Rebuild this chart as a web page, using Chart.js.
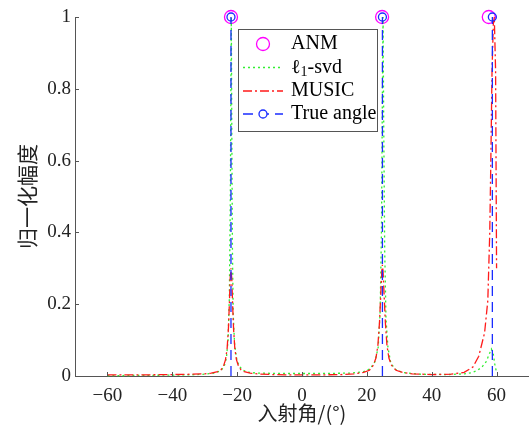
<!DOCTYPE html>
<html>
<head>
<meta charset="utf-8">
<script src="https://cdn.jsdelivr.net/npm/chart.js@4.4.1/dist/chart.umd.min.js"></script>
<style>
  html, body { margin: 0; padding: 0; background: #fff; }
  #wrap { width: 529px; height: 425px; }
</style>
</head>
<body>
<div id="wrap"><canvas id="c" width="529" height="425"></canvas></div>
<script>
// Spatial spectra of the three estimators, normalised to 1.
const xTicks = [-60, -40, -20, 0, 20, 40, 60];
const yTicks = [0, 0.2, 0.4, 0.6, 0.8, 1];

// ANM: recovered directions
const anmAngles = [-21.9, 24.7, 57.6];
const anmValues = [1, 1, 1];

// True source directions
const trueAngles = [-21.9, 24.8, 58.7];

// l1-SVD spectrum
const l1Angles = [-60, -45, -35, -30, -27, -25, -24, -23.3, -22.8, -22.4, -22.1, -21.9, -21.8, -21.65, -21.45, -21.2, -20.8, -20.2, -19.5, -18.5, -17, -14, -5, 5, 15, 19, 21, 22.5, 23.5, 24.1, 24.5, 24.8, 25.0, 25.2, 25.5, 25.9, 26.5, 27.3, 28.5, 31, 36, 45, 50, 52.2, 54, 55.5, 56.8, 57.7, 58.4, 59, 59.5, 60];
const l1Values = [0.001, 0.002, 0.003, 0.005, 0.008, 0.015, 0.027, 0.05, 0.1, 0.22, 0.5, 0.85, 1.0, 0.7, 0.35, 0.17, 0.09, 0.05, 0.03, 0.018, 0.011, 0.008, 0.007, 0.007, 0.008, 0.012, 0.02, 0.04, 0.08, 0.18, 0.4, 0.8, 1.0, 0.7, 0.35, 0.16, 0.08, 0.04, 0.02, 0.01, 0.005, 0.004, 0.006, 0.009, 0.015, 0.025, 0.04, 0.06, 0.075, 0.06, 0.03, 0.01];

// MUSIC spectrum
const musicAngles = [-60, -50, -40, -34, -30, -28, -26, -25, -24.2, -23.6, -23.1, -22.7, -22.4, -22.15, -21.9, -21.65, -21.4, -21.1, -20.7, -20.2, -19.6, -18.8, -17.8, -16, -13, -5, 5, 12, 16, 19, 20.8, 22, 22.8, 23.4, 23.9, 24.3, 24.6, 24.8, 25.0, 25.3, 25.7, 26.2, 26.8, 27.6, 29, 31, 34, 40, 46, 50, 52.7, 54.5, 56.3, 57.3, 57.9, 58.2, 58.6, 59.0, 59.3, 59.7, 60];
const musicValues = [0.003, 0.003, 0.004, 0.005, 0.006, 0.008, 0.012, 0.017, 0.028, 0.045, 0.075, 0.13, 0.2, 0.27, 0.30, 0.27, 0.2, 0.13, 0.075, 0.045, 0.028, 0.017, 0.012, 0.008, 0.005, 0.003, 0.003, 0.004, 0.006, 0.01, 0.016, 0.03, 0.05, 0.085, 0.15, 0.23, 0.29, 0.31, 0.29, 0.23, 0.15, 0.085, 0.05, 0.03, 0.016, 0.01, 0.006, 0.004, 0.005, 0.01, 0.025, 0.055, 0.12, 0.21, 0.4, 0.58, 0.85, 0.98, 1.0, 0.85, 0.3];

const pairs = (xs, ys) => xs.map((x, i) => ({ x: x, y: ys[i] }));
const stems = [];
trueAngles.forEach(a => { stems.push({ x: a, y: 0 }, { x: a, y: 1 }, { x: a, y: null }); });

const SERIF = '"Liberation Serif", "Times New Roman", serif';
const CJK = '"Noto Sans CJK SC", sans-serif';
const AXIS = '#555555';

const colors = { anm: '#ff00ff', l1: '#33ee33', music: '#ff1a1a', truth: '#1a2cff' };

// inward tick marks on both axes
const innerTicks = {
  id: 'innerTicks',
  afterDatasetsDraw(chart) {
    const { ctx, chartArea: a, scales } = chart;
    ctx.save();
    ctx.strokeStyle = AXIS;
    ctx.lineWidth = 1;
    xTicks.forEach(v => {
      const px = Math.round(scales.x.getPixelForValue(v)) + 0.5;
      ctx.beginPath(); ctx.moveTo(px, a.bottom); ctx.lineTo(px, a.bottom - 4); ctx.stroke();
    });
    yTicks.forEach(v => {
      const py = Math.round(scales.y.getPixelForValue(v)) + 0.5;
      ctx.beginPath(); ctx.moveTo(a.left, py); ctx.lineTo(a.left + 4, py); ctx.stroke();
    });
    ctx.restore();
  }
};

// boxed legend in the upper middle of the plot
const boxLegend = {
  id: 'boxLegend',
  afterDraw(chart) {
    const ctx = chart.ctx;
    const L = 238.5, T = 29.5, R = 377.5, B = 131.5;
    ctx.save();
    ctx.fillStyle = '#ffffff';
    ctx.fillRect(L, T, R - L, B - T);
    ctx.strokeStyle = AXIS;
    ctx.lineWidth = 1;
    ctx.strokeRect(L, T, R - L, B - T);

    const x0 = 243, x1 = 283, xm = 263, tx = 291;
    const rows = [44, 67.5, 91, 114];
    ctx.lineWidth = 1.3;
    // ANM
    ctx.strokeStyle = colors.anm;
    ctx.beginPath(); ctx.arc(xm, rows[0], 6.5, 0, Math.PI * 2); ctx.stroke();
    // l1-svd
    ctx.strokeStyle = colors.l1; ctx.setLineDash([2, 3]);
    ctx.beginPath(); ctx.moveTo(x0, rows[1]); ctx.lineTo(x1, rows[1]); ctx.stroke();
    // MUSIC
    ctx.strokeStyle = colors.music; ctx.setLineDash([9, 3, 2, 3]);
    ctx.beginPath(); ctx.moveTo(x0, rows[2]); ctx.lineTo(x1, rows[2]); ctx.stroke();
    // True angle
    ctx.strokeStyle = colors.truth; ctx.setLineDash([10, 6]);
    ctx.beginPath(); ctx.moveTo(x0, rows[3]); ctx.lineTo(x1, rows[3]); ctx.stroke();
    ctx.setLineDash([]);
    ctx.fillStyle = '#ffffff';
    ctx.beginPath(); ctx.arc(xm, rows[3], 4, 0, Math.PI * 2); ctx.fill(); ctx.stroke();

    ctx.fillStyle = '#000000';
    ctx.textBaseline = 'middle';
    ctx.textAlign = 'left';
    ctx.font = '20px ' + SERIF;
    ctx.fillText('ANM', tx, rows[0]);
    // l-one subscript
    ctx.fillText('\u2113', tx, rows[1]);
    let w = ctx.measureText('\u2113').width;
    ctx.font = '14px ' + SERIF;
    ctx.fillText('1', tx + w, rows[1] + 5);
    w += ctx.measureText('1').width;
    ctx.font = '20px ' + SERIF;
    ctx.fillText('-svd', tx + w, rows[1]);
    ctx.fillText('MUSIC', tx, rows[2]);
    ctx.fillText('True angle', tx, rows[3]);
    ctx.restore();
  }
};

new Chart(document.getElementById('c'), {
  type: 'scatter',
  data: {
    datasets: [
      {
        label: 'True angle', data: stems, showLine: true, spanGaps: false,
        borderColor: colors.truth, borderWidth: 1.3, borderDash: [10, 6],
        pointRadius: ctx => (ctx.raw && ctx.raw.y === 1 ? 4 : 0),
        pointBorderColor: colors.truth, pointBackgroundColor: 'rgba(0,0,0,0)',
        pointBorderWidth: 1.3, clip: false, order: 0
      },
      {
        label: 'MUSIC', data: pairs(musicAngles, musicValues), showLine: true,
        borderColor: colors.music, borderWidth: 1.3, borderDash: [9, 3, 2, 3],
        pointRadius: 0, clip: false, order: 1
      },
      {
        label: 'l1-svd', data: pairs(l1Angles, l1Values), showLine: true,
        borderColor: colors.l1, borderWidth: 1.3, borderDash: [2, 3],
        pointRadius: 0, clip: false, order: 2
      },
      {
        label: 'ANM', data: pairs(anmAngles, anmValues), showLine: false,
        pointRadius: 6.5, pointBorderColor: colors.anm, pointBackgroundColor: 'rgba(0,0,0,0)',
        pointBorderWidth: 1.3, clip: false, order: 3
      }
    ]
  },
  options: {
    responsive: false,
    animation: false,
    events: [],
    layout: { autoPadding: false, padding: { top: 17, right: 0, left: 0, bottom: 0 } },
    plugins: { legend: { display: false }, tooltip: { enabled: false } },
    scales: {
      x: {
        type: 'linear', min: -70, max: 70,
        afterBuildTicks: s => { s.ticks = xTicks.map(v => ({ value: v })); },
        afterFit: s => { s.height = 49; s.paddingLeft = 0; s.paddingRight = 0; },
        grid: { display: false, drawTicks: false },
        border: { display: true, color: AXIS, width: 1 },
        ticks: {
          padding: 9, color: '#222', font: { family: SERIF, size: 19 },
          callback: v => (v < 0 ? '\u2212' + Math.abs(v) : String(v))
        },
        title: { display: true, text: '入射角/(°)', color: '#222', font: { family: CJK, size: 20 }, padding: { top: 0, bottom: 0 } }
      },
      y: {
        type: 'linear', min: 0, max: 1,
        afterBuildTicks: s => { s.ticks = yTicks.map(v => ({ value: v })); },
        afterFit: s => { s.width = 75; s.paddingTop = 0; s.paddingBottom = 0; },
        grid: { display: false, drawTicks: false },
        border: { display: true, color: AXIS, width: 1 },
        ticks: {
          padding: 4, color: '#222', font: { family: SERIF, size: 19 },
          callback: v => String(v)
        },
        title: { display: true, text: '归一化幅度', color: '#222', font: { family: CJK, size: 21 }, padding: { top: 14, bottom: 4 } }
      }
    }
  },
  plugins: [innerTicks, boxLegend]
});
</script>
</body>
</html>
